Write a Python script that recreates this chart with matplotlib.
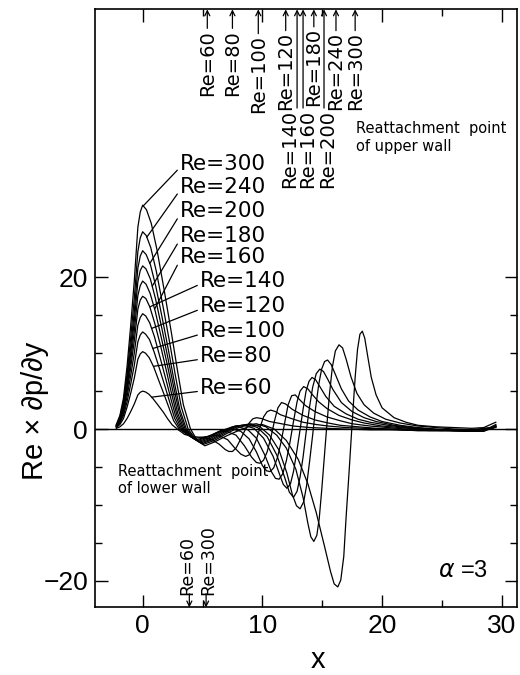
import numpy as np
import matplotlib.pyplot as plt
from matplotlib.ticker import FixedLocator

# Reynolds numbers of the ten curves
re_values = [60, 80, 100, 120, 140, 160, 180, 200, 240, 300]

# shared x positions of the rising flank in front of the step
rise_x = [-2.2, -1.9, -1.6, -1.3, -1.0, -0.7, -0.4, -0.2, 0.0]

x_re60 = rise_x + [0.23, 0.52, 0.87, 1.31, 1.74, 2.09, 2.47, 2.9,
                   3.5, 4.2, 5.0, 5.8, 6.4, 6.9, 7.2, 7.5, 7.8, 8.1, 8.5, 8.9, 9.2, 9.5, 9.9, 10.6, 11.6, 12.6,
                   14.0, 15.5, 17.0, 19.0, 21.0, 23.0, 25.0, 27.0, 28.8, 29.5]
y_re60 = [0.1, 0.3, 0.7, 1.4, 2.3, 3.3, 4.5, 4.85, 5.0, 4.9, 4.6, 4.0, 3.1, 2.2, 1.35, 0.55, 0.0,
          -0.7, -1.0, -1.1, -1.4, -2.0, -2.7, -2.95, -2.95, -2.5, -1.6, -0.3, 0.8, 1.35, 1.5, 1.4, 1.0, 0.7,
          0.4, 0.2, 0.1, 0.0, -0.1, -0.1, -0.2, -0.2, -0.1, 0.0, 0.2]

x_re80 = rise_x + [0.24, 0.55, 0.92, 1.37, 1.83, 2.2, 2.59, 3.05,
                   3.8, 4.4, 5.3, 6.3, 7.1, 7.7, 8.2, 8.6, 8.9, 9.2, 9.5, 9.8, 10.1, 10.4, 10.7, 11.1, 11.5,
                   12.4, 13.4, 14.5, 15.5, 17.0, 18.5, 20.0, 21.5, 23.0, 24.5, 26.0, 27.5, 28.8, 29.5]
y_re80 = [0.2, 0.6, 1.4, 2.9, 4.7, 6.7, 9.2, 9.9, 10.2, 10.0, 9.4, 8.2, 6.3, 4.4, 2.8, 1.1, 0.0,
          -0.8, -1.2, -1.0, -0.8, -1.4, -2.5, -3.3, -3.6, -3.4, -2.6, -1.4, 0.2, 1.6, 2.3, 2.5, 2.3, 1.9,
          1.4, 0.9, 0.6, 0.4, 0.2, 0.1, 0.0, -0.1, -0.2, -0.2, -0.2, -0.2, 0.0, 0.3]

x_re100 = rise_x + [0.25, 0.57, 0.95, 1.42, 1.89, 2.27, 2.68, 3.15,
                    3.9, 4.5, 5.4, 6.3, 7.0, 7.8, 8.5, 9.1, 9.5, 9.8, 10.1, 10.4, 10.7, 11.0, 11.3, 11.6, 11.95,
                    12.5, 13.4, 14.4, 15.5, 16.5, 18.0, 19.5, 21.0, 22.5, 24.0, 25.5, 27.0, 28.5, 29.3, 29.5]
y_re100 = [0.3, 0.8, 1.8, 3.6, 5.9, 8.4, 11.5, 12.4, 12.8, 12.5, 11.8, 10.2, 7.9, 5.5, 3.5, 1.4, 0.0,
           -0.9, -1.4, -1.0, -0.4, -0.3, -0.8, -2.2, -3.7, -4.4, -4.5, -4.1, -3.0, -1.2, 1.0, 2.8, 3.5, 3.3,
           2.6, 1.8, 1.2, 0.8, 0.5, 0.3, 0.1, 0.0, -0.1, -0.2, -0.2, -0.2, -0.1, 0.2, 0.3]

x_re120 = rise_x + [0.26, 0.59, 0.98, 1.46, 1.95, 2.34, 2.76, 3.25,
                    4.0, 4.6, 5.5, 6.5, 7.5, 8.2, 8.9, 9.5, 10.0, 10.35, 10.65, 10.95, 11.25, 11.55, 11.85,
                    12.15, 12.45, 12.75, 13.1, 13.6, 14.4, 15.4, 16.5, 17.5, 19.0, 20.5, 22.0, 23.5, 25.0,
                    26.5, 28.0, 29.2, 29.5]
y_re120 = [0.3, 0.9, 2.1, 4.3, 7.0, 10.0, 13.7, 14.7, 15.2, 14.9, 14.0, 12.2, 9.4, 6.5, 4.1, 1.7, 0.0,
           -1.0, -1.5, -1.0, -0.2, 0.0, -0.3, -1.3, -3.0, -4.8, -5.5, -5.6, -5.1, -3.8, -1.8, 0.7, 3.2, 4.4,
           4.5, 3.9, 3.1, 2.3, 1.6, 1.1, 0.7, 0.4, 0.2, 0.0, -0.1, -0.2, -0.2, -0.1, 0.2, 0.4]

x_re140 = rise_x + [0.27, 0.6, 1.0, 1.51, 2.01, 2.41, 2.85, 3.35,
                    4.1, 4.7, 5.6, 6.6, 7.5, 8.0, 8.8, 9.5, 10.2, 10.75, 11.1, 11.4, 11.7, 12.0, 12.3, 12.6,
                    12.9, 13.15, 13.45, 13.8, 14.2, 14.7, 15.4, 16.4, 17.5, 18.5, 20.0, 21.5, 23.0, 24.5,
                    26.0, 27.5, 29.0, 29.5]
y_re140 = [0.4, 1.1, 2.5, 4.9, 8.1, 11.6, 15.8, 17.0, 17.5, 17.2, 16.1, 14.0, 10.9, 7.5, 4.7, 1.9, 0.0,
           -1.1, -1.6, -1.1, -0.2, 0.3, 0.3, -0.1, -1.2, -3.4, -5.6, -6.5, -6.6, -5.9, -4.2, -1.8, 1.0, 3.6,
           5.0, 5.6, 5.3, 4.5, 3.6, 2.7, 1.8, 1.2, 0.8, 0.4, 0.2, 0.0, -0.1, -0.2, -0.2, 0.0, 0.3]

x_re160 = rise_x + [0.28, 0.62, 1.04, 1.55, 2.07, 2.48, 2.93, 3.45,
                    4.2, 4.8, 5.7, 6.7, 7.7, 8.5, 9.3, 10.1, 10.9, 11.4, 11.75, 12.05, 12.35, 12.6, 12.85,
                    13.1, 13.4, 13.65, 13.9, 14.15, 14.45, 14.8, 15.3, 16.0, 17.0, 18.0, 19.0, 20.5, 22.0,
                    23.5, 25.0, 26.5, 28.0, 29.2, 29.5]
y_re160 = [0.4, 1.2, 2.7, 5.5, 9.0, 12.9, 17.6, 18.9, 19.5, 19.1, 17.9, 15.6, 12.1, 8.4, 5.3, 2.1, 0.0,
           -1.2, -1.7, -1.2, -0.3, 0.4, 0.5, 0.1, -1.2, -3.6, -5.8, -7.3, -7.8, -7.2, -5.6, -3.2, -0.6, 2.6,
           5.0, 6.3, 6.8, 6.5, 5.6, 4.3, 3.0, 2.0, 1.3, 0.9, 0.5, 0.2, 0.0, -0.1, -0.2, -0.3, 0.1, 0.3]

x_re180 = rise_x + [0.28, 0.64, 1.07, 1.6, 2.13, 2.56, 3.02, 3.55,
                    4.3, 4.9, 5.8, 6.8, 7.8, 8.8, 9.6, 10.4, 11.2, 11.85, 12.25, 12.6, 12.9, 13.15, 13.4,
                    13.65, 13.95, 14.2, 14.5, 14.8, 15.1, 15.45, 15.9, 16.6, 17.5, 18.5, 19.5, 21.0, 22.5,
                    24.0, 25.5, 27.0, 28.5, 29.3, 29.5]
y_re180 = [0.4, 1.3, 3.0, 6.0, 9.9, 14.2, 19.4, 20.9, 21.5, 21.1, 19.8, 17.2, 13.3, 9.2, 5.8, 2.4, 0.0,
           -1.3, -1.8, -1.3, -0.4, 0.4, 0.6, 0.2, -1.0, -3.4, -6.3, -8.3, -9.0, -8.2, -6.3, -3.7, -0.5, 3.0,
           5.5, 7.3, 7.9, 7.6, 6.6, 5.2, 3.5, 2.3, 1.5, 1.0, 0.5, 0.2, 0.0, -0.2, -0.3, -0.3, 0.2, 0.4]

x_re200 = rise_x + [0.29, 0.66, 1.1, 1.64, 2.19, 2.63, 3.1, 3.65,
                    4.4, 5.0, 6.0, 7.0, 8.0, 9.0, 9.8, 10.6, 11.4, 12.05, 12.5, 12.85, 13.15, 13.45, 13.7,
                    13.95, 14.2, 14.45, 14.7, 14.95, 15.2, 15.45, 15.75, 16.1, 16.6, 17.2, 18.0, 19.0, 20.0,
                    21.5, 23.0, 24.5, 26.0, 27.5, 28.5, 29.3, 29.5]
y_re200 = [0.5, 1.4, 3.3, 6.6, 10.8, 15.5, 21.2, 22.8, 23.5, 23.0, 21.6, 18.8, 14.6, 10.1, 6.3, 2.6, 0.0,
           -1.4, -1.9, -1.3, -0.4, 0.4, 0.7, 0.3, -0.8, -2.8, -5.8, -8.6, -10.1, -10.5, -9.6, -7.4, -4.2,
           -0.8, 2.8, 5.8, 7.9, 8.9, 9.1, 8.5, 7.2, 5.3, 3.7, 2.5, 1.6, 1.0, 0.5, 0.2, 0.0, -0.2, -0.3, -0.2,
           0.3, 0.5]

x_re240 = rise_x + [0.3, 0.68, 1.14, 1.71, 2.28, 2.74, 3.23, 3.8,
                    4.5, 5.1, 6.0, 7.0, 8.0, 9.0, 9.5, 10.3, 11.2, 12.0, 12.8, 13.4, 13.8, 14.05, 14.3, 14.55,
                    14.75, 14.95, 15.15, 15.35, 15.6, 15.85, 16.1, 16.4, 16.7, 17.0, 17.4, 17.9, 18.5, 19.3,
                    20.3, 21.5, 23.0, 24.5, 26.0, 27.5, 29.0, 29.5]
y_re240 = [0.5, 1.6, 3.6, 7.3, 12.0, 17.2, 23.4, 25.2, 26.0, 25.5, 23.9, 20.8, 16.1, 11.2, 7.0, 2.9, 0.0,
           -1.5, -2.0, -1.5, -0.6, 0.2, 0.6, 0.7, 0.3, -0.8, -2.5, -5.3, -9.0, -12.4, -14.2, -14.8, -14.0,
           -11.8, -8.2, -4.2, -0.2, 4.5, 8.2, 10.3, 11.1, 10.7, 9.2, 6.9, 4.7, 3.2, 2.1, 1.3, 0.8, 0.4, 0.2,
           0.0, -0.1, 0.2, 0.6]

x_re300 = rise_x + [0.32, 0.72, 1.2, 1.8, 2.4, 2.88, 3.4, 4.0,
                    4.6, 5.2, 6.0, 7.0, 8.0, 9.0, 10.0, 11.0, 12.0, 13.0, 13.8, 14.5, 15.2, 15.7, 16.0, 16.3,
                    16.55, 16.8, 17.0, 17.25, 17.5, 17.75, 17.95, 18.15, 18.35, 18.55, 18.8, 19.1, 19.5, 20.0,
                    21.0, 22.0, 23.0, 24.5, 26.0, 27.5, 28.5, 29.2, 29.5]
y_re300 = [0.6, 1.8, 4.1, 8.3, 13.6, 19.5, 26.6, 28.6, 29.5, 28.9, 27.1, 23.6, 18.3, 12.7, 8.0, 3.2, 0.0,
           -1.6, -2.2, -1.7, -0.9, -0.2, 0.4, 0.6, 0.0, -1.5, -4.0, -7.2, -11.0, -15.5, -18.8, -20.4, -20.8,
           -19.9, -16.8, -11.5, -5.5, 0.8, 6.8, 10.5, 12.5, 12.9, 12.0, 9.6, 6.8, 4.5, 2.8, 1.5, 0.9, 0.5,
           0.3, 0.2, 0.1, 0.2, 0.7, 0.9]

curves_x = [x_re60, x_re80, x_re100, x_re120, x_re140, x_re160, x_re180, x_re200, x_re240, x_re300]
curves_y = [y_re60, y_re80, y_re100, y_re120, y_re140, y_re160, y_re180, y_re200, y_re240, y_re300]

# labels on the left with leader lines to the first peak
label_x = [4.8, 4.8, 4.8, 4.8, 4.8, 3.13, 3.13, 3.13, 3.13, 3.13]
label_y = [4.6, 8.8, 12.1, 15.4, 18.7, 21.9, 24.6, 27.9, 31.1, 34.1]
leader_x = [0.75, 0.9, 0.85, 0.75, 0.6, 1.0, 0.8, 0.6, 0.35, 0.05]

# reattachment points, upper wall (arrows on top) and lower wall (arrows at bottom)
upper_arrow_x = [5.4, 7.5, 9.66, 11.95, 12.9, 13.4, 14.3, 15.15, 16.15, 17.75]
upper_text_x = [5.4, 7.5, 9.66, 11.95, 12.3, 13.75, 14.3, 15.45, 16.15, 17.75]
upper_text_top = [52.6, 52.6, 51.9, 52.3, 42.1, 42.1, 52.8, 42.1, 52.3, 52.3]
lower_re = [60, 300]
lower_arrow_x = [3.9, 5.3]
lower_text_x = [3.75, 5.45]

XLIM = (-3.98, 31.27)
YLIM = (-23.5, 55.3)

fig = plt.figure(figsize=(5.2, 6.75), dpi=100)
ax = fig.add_axes([0.1827, 0.1001, 0.8115, 0.886])

for xs, ys in zip(curves_x, curves_y):
    ax.plot(xs, ys, color='k', lw=0.9, solid_joinstyle='round')
ax.axhline(0, color='k', lw=1.0)

ax.set_xlim(*XLIM)
ax.set_ylim(*YLIM)

ax.xaxis.set_major_locator(FixedLocator([0, 10, 20, 30]))
ax.xaxis.set_minor_locator(FixedLocator([5, 15, 25]))
ax.yaxis.set_major_locator(FixedLocator([-20, 0, 20]))
ax.yaxis.set_minor_locator(FixedLocator([-15, -10, -5, 5, 10, 15]))
ax.tick_params(which='both', direction='in', top=True, right=True, width=1.0)
ax.tick_params(which='major', length=9, pad=5, labelsize=19)
ax.tick_params(which='minor', length=5)
for lab in ax.get_xticklabels() + ax.get_yticklabels():
    lab.set_family(['Liberation Sans', 'DejaVu Sans'])
for sp in ax.spines.values():
    sp.set_linewidth(1.2)

ax.text(-0.142, 0.328, 'Re × ∂p/∂y', transform=ax.transAxes, rotation=90,
        ha='center', va='center', fontsize=21, family=['Liberation Sans', 'DejaVu Sans'])
ax.text(0.528, -0.088, 'x', transform=ax.transAxes, ha='center', va='center',
        fontsize=21, family=['Liberation Sans', 'DejaVu Sans'])

# Re labels with leader lines
for re, lx, ly, tx, xs, ys in zip(re_values, label_x, label_y, leader_x, curves_x, curves_y):
    ty = np.interp(tx, xs, ys)
    ax.annotate(f'Re={re}', xy=(tx, ty), xytext=(lx, ly), ha='left', va='baseline', fontsize=15.5,
                arrowprops=dict(arrowstyle='-', lw=0.9, color='k', shrinkA=0, shrinkB=0, relpos=(0, 0.35)))

# upper wall reattachment arrows
for re, axx, tx, tt in zip(re_values, upper_arrow_x, upper_text_x, upper_text_top):
    ax.text(tx, tt, f'Re={re}', rotation=90, ha='center', va='top', fontsize=14)
    ax.annotate('', xy=(axx, YLIM[1]), xytext=(axx, tt + 0.2),
                arrowprops=dict(arrowstyle='->', lw=0.9, color='k', shrinkA=0, shrinkB=0, mutation_scale=9))

# lower wall reattachment arrows
for re, axx, tx in zip(lower_re, lower_arrow_x, lower_text_x):
    ax.text(tx, -21.9, f'Re={re}', rotation=90, ha='center', va='bottom', fontsize=12.5)
    ax.annotate('', xy=(axx, YLIM[0]), xytext=(axx, -21.7),
                arrowprops=dict(arrowstyle='->', lw=0.9, color='k', shrinkA=0, shrinkB=0, mutation_scale=9))

ax.text(17.8, 38.4, 'Reattachment  point\nof upper wall', ha='left', va='center', fontsize=10.5)
ax.text(-2.05, -6.7, 'Reattachment  point\nof lower wall', ha='left', va='center', fontsize=10.5)
ax.text(24.7, -18.7, r'$\alpha$ =3', ha='left', va='center', fontsize=17,
        family=['Liberation Sans', 'DejaVu Sans'])

fig.savefig('out.png', dpi=100)
